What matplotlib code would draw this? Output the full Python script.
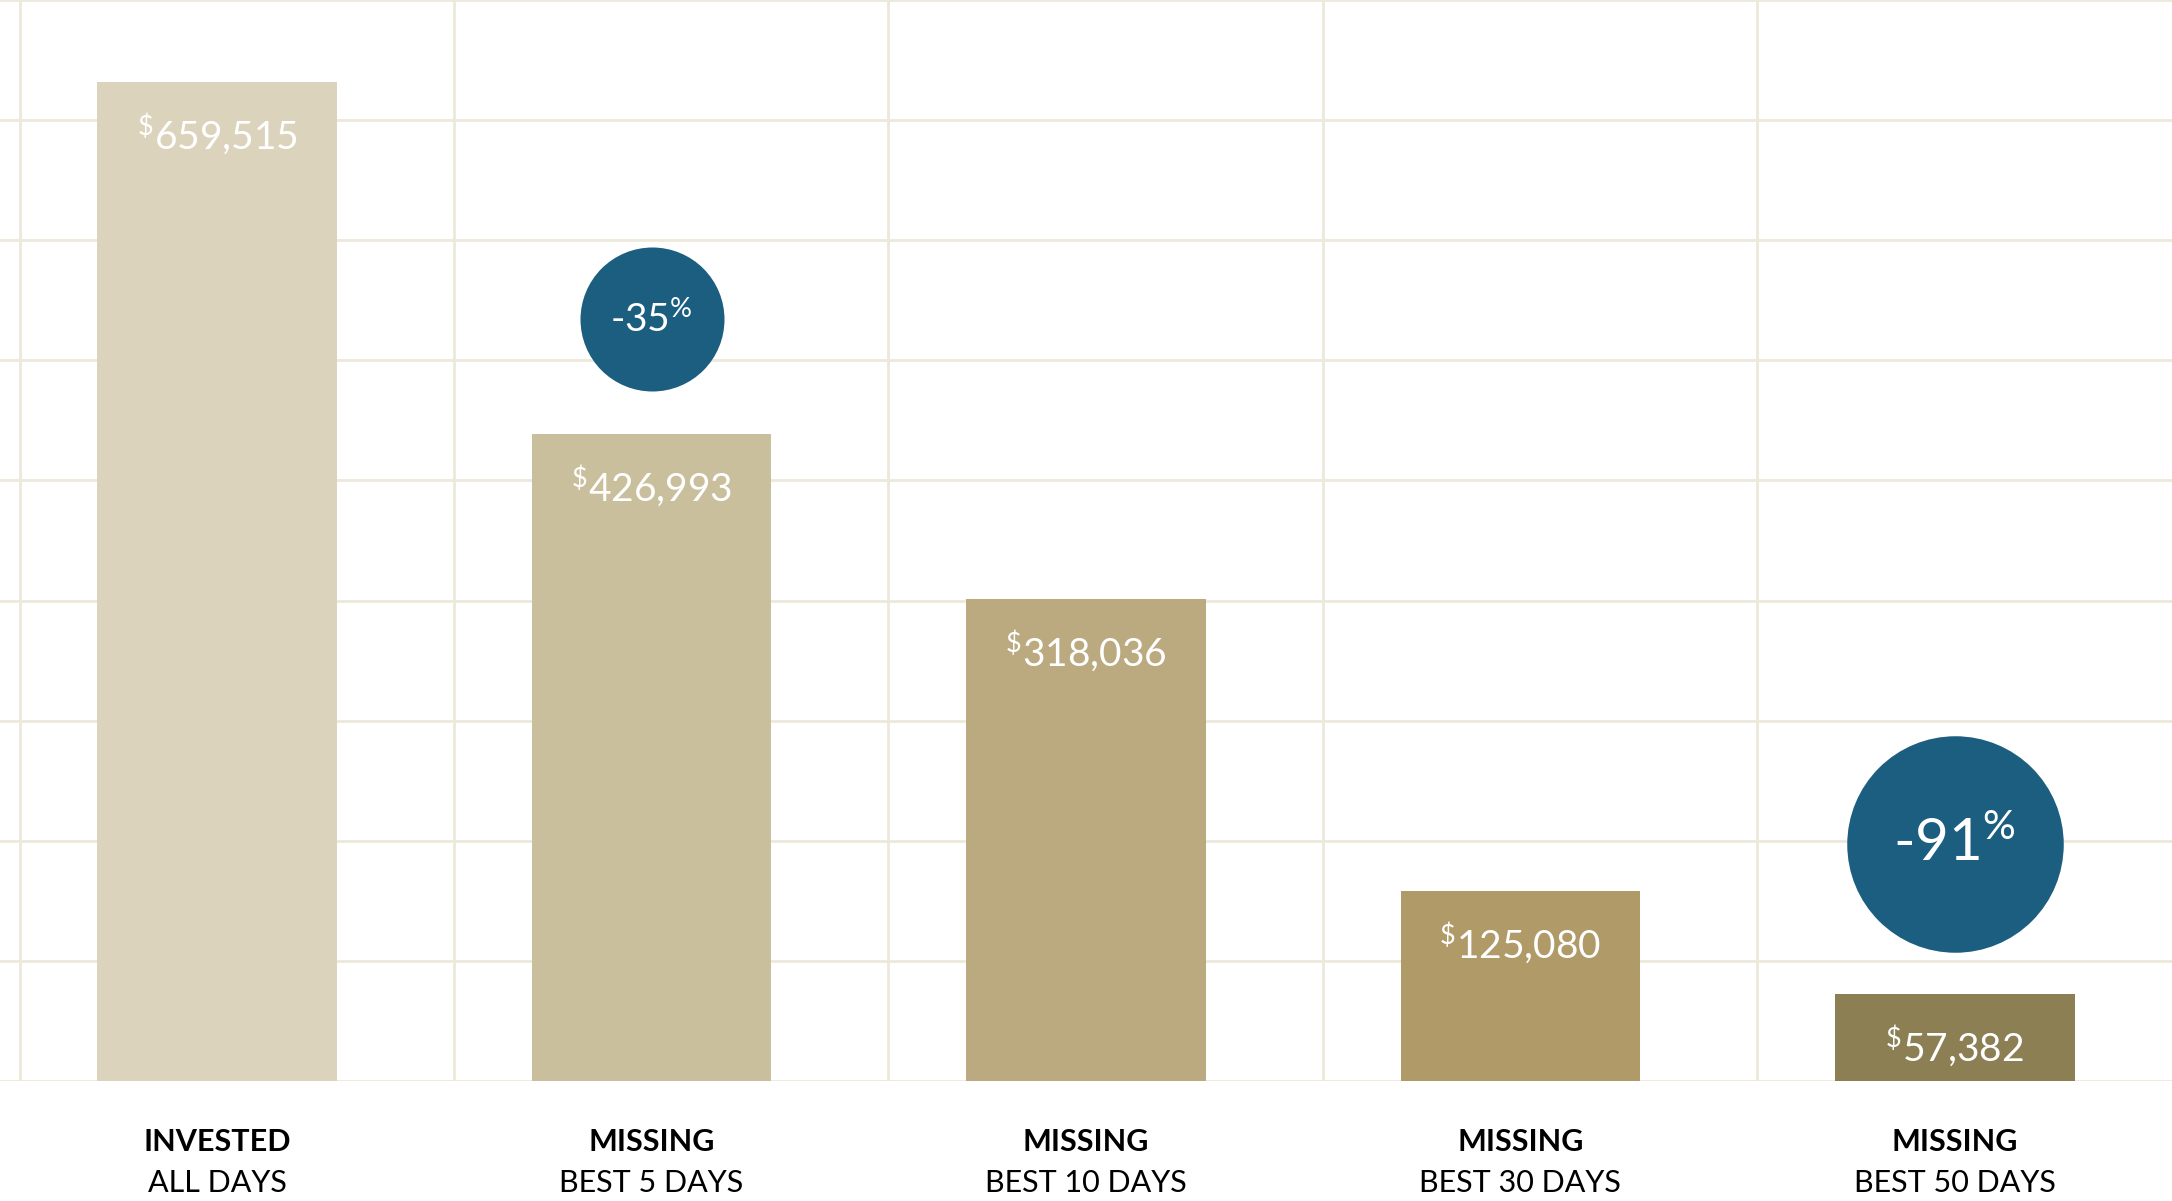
import matplotlib
matplotlib.use("Agg")
import matplotlib.pyplot as plt
import numpy as np
from matplotlib.transforms import blended_transform_factory

plt.rcParams['font.family'] = ['Lato', 'DejaVu Sans']
plt.rcParams['mathtext.fontset'] = 'custom'
plt.rcParams['mathtext.rm'] = 'Lato'
plt.rcParams['mathtext.it'] = 'Lato'

line1 = ["INVESTED", "MISSING", "MISSING", "MISSING", "MISSING"]
line2 = ["ALL DAYS", "BEST 5 DAYS", "BEST 10 DAYS", "BEST 30 DAYS", "BEST 50 DAYS"]
values = [659515, 426993, 318036, 125080, 57382]
colors = ["#DBD3BB", "#C9BF9D", "#BBAA80", "#AF9A68", "#8C7F54"]
badges = [(1, "-35", 503100, 10750, 28), (4, "-91", 156400, 24300, 42)]

fig = plt.figure(figsize=(21.72, 12.01), dpi=100)
ax = fig.add_axes([0, 0.1, 1, 0.9])
ymax = 659515 * 776 / 717
ax.set_xlim(-0.5, 4.5)
ax.set_ylim(0, ymax)
for y in np.linspace(0, ymax, 10)[1:]:
    ax.axhline(y, color="#EDE9DA", lw=2, zorder=0)
for k in range(5):
    ax.axvline(-0.455 + k, color="#EDE9DA", lw=2, zorder=0)
ax.axhline(0, color="#EDE9DA", lw=2, zorder=0)
for s in ax.spines.values():
    s.set_visible(False)
ax.set_xticks([]); ax.set_yticks([])

x = np.arange(len(values))
ax.bar(x, values, width=0.552, color=colors, zorder=2)
for xi, v in zip(x, values):
    ax.annotate(r"$^{\$}$" + f"{v:,}", (xi, v), xytext=(0, -52), textcoords="offset pixels",
                ha="center", va="center", color="white", fontsize=28, zorder=3)

for xi, txt, yc, s, fs in badges:
    ax.scatter([xi], [yc], s=s, color="#1B5E7F", zorder=4, linewidths=0)
    ax.text(xi, yc, txt + r"$^{\%}$", ha="center", va="center", color="white", fontsize=fs, zorder=5)

tr = blended_transform_factory(ax.transData, fig.transFigure)
for xi, a, b in zip(x, line1, line2):
    fig.text(xi, 1 - 820/862, a, transform=tr, ha="center", va="center", fontsize=22, fontweight="bold", color="black")
    fig.text(xi, 1 - 849/862, b, transform=tr, ha="center", va="center", fontsize=22, color="black")

fig.savefig("out.png", dpi=100, facecolor="white")
